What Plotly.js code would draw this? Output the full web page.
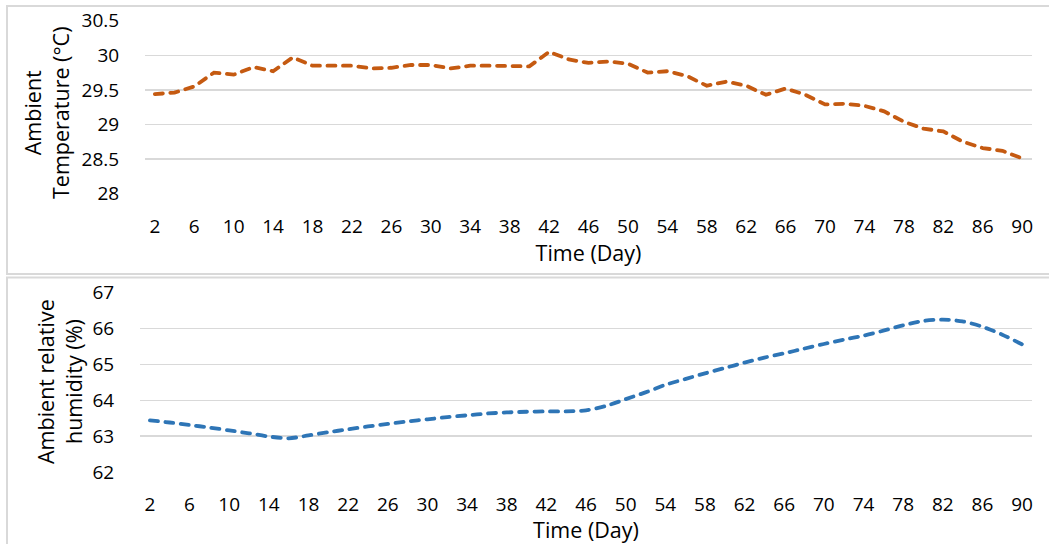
<!DOCTYPE html>
<html>
<head>
<meta charset="utf-8">
<script src="https://cdn.plot.ly/plotly-3.0.1.min.js"></script>
<style>
html,body{margin:0;padding:0;background:#fff;}
#chart{width:1049px;height:544px;}
.scatterlayer path.js-line{stroke-linecap:round;}
</style>
</head>
<body>
<div id="chart"></div>
<script>
const days = [2,4,6,8,10,12,14,16,18,20,22,24,26,28,30,32,34,36,38,40,42,44,46,48,50,52,54,56,58,60,62,64,66,68,70,72,74,76,78,80,82,84,86,88,90];
const temperature = [29.44,29.46,29.55,29.75,29.72,29.83,29.77,29.97,29.85,29.85,29.85,29.81,29.82,29.86,29.86,29.81,29.85,29.85,29.84,29.84,30.05,29.94,29.89,29.91,29.88,29.75,29.77,29.70,29.56,29.62,29.56,29.43,29.52,29.43,29.29,29.30,29.27,29.19,29.04,28.94,28.90,28.75,28.66,28.62,28.51];
const humidity = [63.44,63.38,63.31,63.24,63.16,63.08,62.99,62.94,63.02,63.11,63.19,63.27,63.34,63.41,63.47,63.53,63.58,63.63,63.66,63.68,63.69,63.69,63.72,63.84,64.03,64.22,64.43,64.59,64.75,64.90,65.05,65.19,65.31,65.44,65.57,65.69,65.80,65.94,66.09,66.21,66.25,66.20,66.05,65.83,65.56];
const xTicks = [2,6,10,14,18,22,26,30,34,38,42,46,50,54,58,62,66,70,74,78,82,86,90];
const tempTicks = [28,28.5,29,29.5,30,30.5];
const humTicks = [62,63,64,65,66,67];

const W = 1049, H = 544;
const fam = '"Open Sans", "Liberation Sans", sans-serif';
const tickFont = {family: fam, size: 19, color: '#000'};
const titleFont = {family: fam, size: 21.5, color: '#000'};
const grid = '#d9d9d9';

const traces = [
  {x: days, y: temperature, type: 'scatter', mode: 'lines', xaxis: 'x', yaxis: 'y',
   line: {color: '#C55A11', width: 3.8, dash: '8px,7.5px'}},
  {x: days, y: humidity, type: 'scatter', mode: 'lines', xaxis: 'x2', yaxis: 'y2',
   line: {color: '#2E75B6', width: 3.8, dash: '8px,7.5px', shape: 'spline', smoothing: 0.8}}
];

function xa(d0, d1, anchor, tl, so) {
  return {domain: [d0 / W, d1 / W], anchor: anchor, range: [1, 91], tickmode: 'array', tickvals: xTicks,
    showgrid: false, zeroline: false, showline: false, ticks: 'outside', ticklen: tl,
    tickcolor: 'rgba(0,0,0,0)', tickfont: tickFont,
    title: {text: 'Time (Day)', font: titleFont, standoff: so}};
}
function ya(top, bottom, range, ticks, anchor) {
  return {domain: [1 - bottom / H, 1 - top / H], anchor: anchor, range: range, tickmode: 'array', tickvals: ticks,
    showgrid: true, gridcolor: grid, gridwidth: 1.5, zeroline: false, showline: false,
    ticks: 'outside', ticklen: 21, tickcolor: 'rgba(0,0,0,0)', tickfont: tickFont};
}

const layout = {
  width: W, height: H, margin: {l: 0, r: 0, t: 0, b: 0},
  paper_bgcolor: '#fff', plot_bgcolor: '#fff', showlegend: false, font: tickFont,
  xaxis: xa(145, 1032, 'y', 15, 4),
  yaxis: ya(20.7, 193.7, [28, 30.5], tempTicks, 'x'),
  xaxis2: xa(140, 1032, 'y2', 15, 0),
  yaxis2: ya(292.7, 472, [62, 67], humTicks, 'x2'),
  annotations: [
    {text: 'Ambient<br>Temperature (°C)', xref: 'paper', yref: 'paper', x: 46 / W, y: 1 - 113 / H,
     textangle: -90, showarrow: false, font: titleFont, xanchor: 'center', yanchor: 'middle'},
    {text: 'Ambient relative<br>humidity (%)', xref: 'paper', yref: 'paper', x: 59 / W, y: 1 - 382 / H,
     textangle: -90, showarrow: false, font: titleFont, xanchor: 'center', yanchor: 'middle'}
  ],
  shapes: [
    {type: 'rect', xref: 'paper', yref: 'paper', x0: 7 / W, x1: 1.01, y0: 1 - 274 / H, y1: 1 - 6 / H,
     line: {color: grid, width: 2}},
    {type: 'rect', xref: 'paper', yref: 'paper', x0: 7 / W, x1: 1.01, y0: -0.01, y1: 1 - 277.5 / H,
     line: {color: grid, width: 2}}
  ]
};

Plotly.newPlot('chart', traces, layout, {staticPlot: true, displayModeBar: false});
</script>
</body>
</html>
